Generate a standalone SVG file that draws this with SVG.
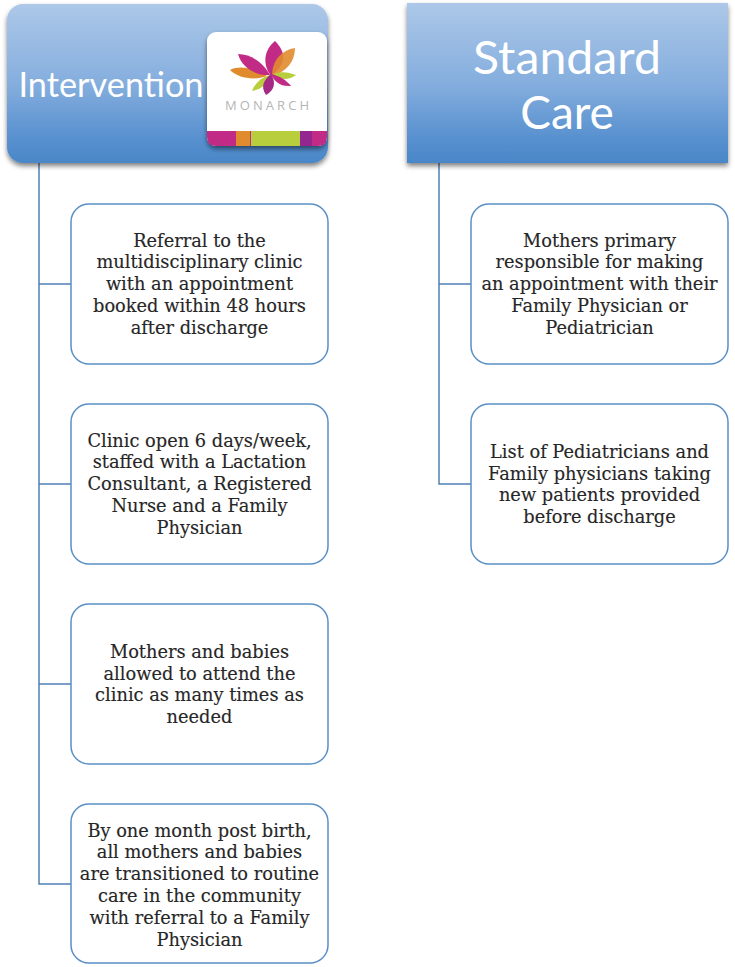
<svg xmlns="http://www.w3.org/2000/svg" width="735" height="967" viewBox="0 0 735 967">
<style>
.conn{fill:none;stroke:#4f81b5;stroke-width:1.5}
.box{fill:#fff;stroke:#5b8fc4;stroke-width:1.5}
.t{font-family:"DejaVu Serif","Liberation Serif",serif;font-size:17.8px;fill:#262626;stroke:#262626;stroke-width:.15;text-anchor:middle}
.h{font-family:Lato,"Open Sans",sans-serif;fill:#fff;text-anchor:middle}
</style>
<defs>
<linearGradient id="g" x1="0" y1="0" x2="0" y2="1"><stop offset="0" stop-color="#adc8e8"/><stop offset="0.5" stop-color="#85aede"/><stop offset="0.85" stop-color="#5790cf"/><stop offset="1" stop-color="#4a87c8"/></linearGradient>
<filter id="s" x="-10%" y="-10%" width="120%" height="125%"><feGaussianBlur in="SourceAlpha" stdDeviation="2.5"/><feOffset dy="3"/><feComponentTransfer><feFuncA type="linear" slope="0.5"/></feComponentTransfer><feMerge><feMergeNode/><feMergeNode in="SourceGraphic"/></feMerge></filter>
</defs>
<rect width="735" height="967" fill="#fff"/>
<g id="connectors" class="conn">
<path d="M39 163V884H71M39 284H71M39 484H71M39 684H71"/>
<path d="M439 163V484H471M439 284H471"/>
</g>
<g id="intervention">
<rect x="7" y="4" width="321" height="159" rx="16" fill="url(#g)" filter="url(#s)"/>
<text class="h" x="111" y="97" font-size="35" textLength="185" lengthAdjust="spacingAndGlyphs">Intervention</text>
</g>
<g id="logo">
<rect x="207" y="32" width="120" height="114" rx="9" fill="#fff" filter="url(#s)"/>
<path d="M207 131H327V137Q327 146 318 146H216Q207 146 207 137Z" fill="#c22b85"/>
<rect x="236" y="131" width="14" height="15" fill="#e08c2e"/>
<rect x="251" y="131" width="49" height="15" fill="#b9ce3d"/>
<rect x="300" y="131" width="12" height="15" fill="#93278f"/>
<path d="M267 76C254 68 240 65 230 70C238 78 254 81 267 76Z" fill="#e08c2e"/>
<path d="M238 54C252 54 264 64 270 75C256 76 242 68 238 54Z" fill="#c22b85"/>
<path d="M275 41C286 52 287 64 271 76C262 64 264 50 275 41Z" fill="#c22b85"/>
<path d="M295 48C295 62 286 72 272 76C272 60 282 50 295 48Z" fill="#e08c2e" fill-opacity=".9"/>
<path d="M296 75C288 81 280 80 273 74C282 71 288 72 296 75Z" fill="#b9ce3d"/>
<path d="M291 86C280 87 274 81 271 74C280 76 286 80 291 86Z" fill="#c22b85"/>
<path d="M252 91C255 83 262 77 270 75C269 83 262 89 252 91Z" fill="#b9ce3d"/>
<path d="M266 95C260 86 264 80 271 74C276 82 275 90 266 95Z" fill="#a52a85"/>
<text x="267" y="110" font-family="Open Sans,sans-serif" font-size="13" fill="#b5b5b5" text-anchor="middle" textLength="84" lengthAdjust="spacing">MONARCH</text>
</g>
<g id="standard-care">
<rect x="407" y="3" width="321" height="160" fill="url(#g)" filter="url(#s)"/>
<text class="h" x="567" y="74" font-size="46" textLength="188" lengthAdjust="spacingAndGlyphs">Standard</text>
<text class="h" x="567" y="129" font-size="46">Care</text>
</g>
<g id="i1">
<rect class="box" x="71" y="204" width="257" height="160" rx="18"/>
<text class="t"><tspan x="199.500" y="247">Referral to the</tspan><tspan x="199.500" y="268">multidisciplinary clinic</tspan><tspan x="199.500" y="290">with an appointment</tspan><tspan x="199.500" y="312">booked within 48 hours</tspan><tspan x="199.500" y="334">after discharge</tspan></text>
</g>
<g id="i2">
<rect class="box" x="71" y="404" width="257" height="160" rx="18"/>
<text class="t"><tspan x="199.500" y="447">Clinic open 6 days/week,</tspan><tspan x="199.500" y="468">staffed with a Lactation</tspan><tspan x="199.500" y="490">Consultant, a Registered</tspan><tspan x="199.500" y="512">Nurse and a Family</tspan><tspan x="199.500" y="534">Physician</tspan></text>
</g>
<g id="i3">
<rect class="box" x="71" y="604" width="257" height="160" rx="18"/>
<text class="t"><tspan x="199.500" y="658">Mothers and babies</tspan><tspan x="199.500" y="680">allowed to attend the</tspan><tspan x="199.500" y="701">clinic as many times as</tspan><tspan x="199.500" y="723">needed</tspan></text>
</g>
<g id="i4">
<rect class="box" x="71" y="804" width="257" height="159" rx="18"/>
<text class="t"><tspan x="199.500" y="837">By one month post birth,</tspan><tspan x="199.500" y="858">all mothers and babies</tspan><tspan x="199.500" y="880">are transitioned to routine</tspan><tspan x="199.500" y="902">care in the community</tspan><tspan x="199.500" y="924">with referral to a Family</tspan><tspan x="199.500" y="946">Physician</tspan></text>
</g>
<g id="s1">
<rect class="box" x="471" y="204" width="257" height="160" rx="18"/>
<text class="t"><tspan x="599.500" y="247">Mothers primary</tspan><tspan x="599.500" y="268">responsible for making</tspan><tspan x="599.500" y="290">an appointment with their</tspan><tspan x="599.500" y="312">Family Physician or</tspan><tspan x="599.500" y="334">Pediatrician</tspan></text>
</g>
<g id="s2">
<rect class="box" x="471" y="404" width="257" height="160" rx="18"/>
<text class="t"><tspan x="599.500" y="458">List of Pediatricians and</tspan><tspan x="599.500" y="480">Family physicians taking</tspan><tspan x="599.500" y="501">new patients provided</tspan><tspan x="599.500" y="523">before discharge</tspan></text>
</g>
</svg>
